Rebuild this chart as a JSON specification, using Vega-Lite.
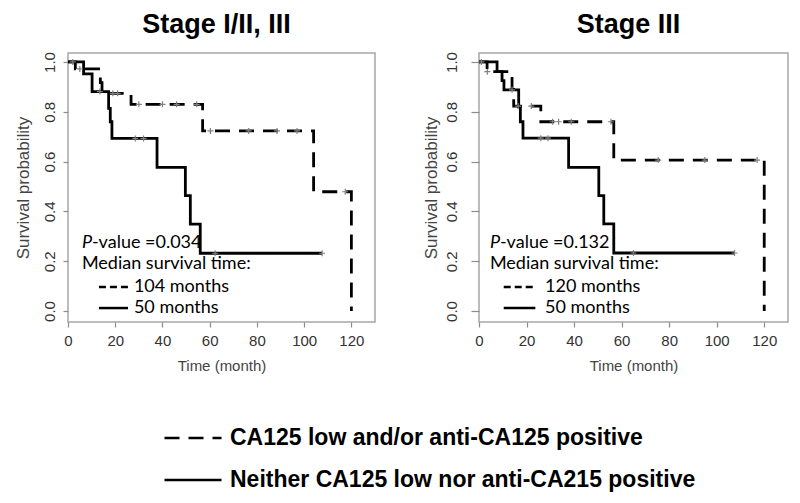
{
  "$schema": "https://vega.github.io/schema/vega-lite/v6.json",
  "background": "white",
  "padding": {"left": 13, "top": 9, "right": 5, "bottom": 5},
  "datasets": {
    "km": [
      {"panel": "Stage I/II, III", "group": "CA125 low and/or anti-CA125 positive", "t": 0, "S": 1},
      {"panel": "Stage I/II, III", "group": "CA125 low and/or anti-CA125 positive", "t": 3.1, "S": 0.972},
      {"panel": "Stage I/II, III", "group": "CA125 low and/or anti-CA125 positive", "t": 13.7, "S": 0.917},
      {"panel": "Stage I/II, III", "group": "CA125 low and/or anti-CA125 positive", "t": 14.4, "S": 0.874},
      {"panel": "Stage I/II, III", "group": "CA125 low and/or anti-CA125 positive", "t": 26.7, "S": 0.83},
      {"panel": "Stage I/II, III", "group": "CA125 low and/or anti-CA125 positive", "t": 57, "S": 0.723},
      {"panel": "Stage I/II, III", "group": "CA125 low and/or anti-CA125 positive", "t": 104, "S": 0.479},
      {"panel": "Stage I/II, III", "group": "CA125 low and/or anti-CA125 positive", "t": 120, "S": 0},
      {"panel": "Stage I/II, III", "group": "Neither CA125 low nor anti-CA215 positive", "t": 0, "S": 1},
      {"panel": "Stage I/II, III", "group": "Neither CA125 low nor anti-CA215 positive", "t": 6.6, "S": 0.952},
      {"panel": "Stage I/II, III", "group": "Neither CA125 low nor anti-CA215 positive", "t": 10.2, "S": 0.881},
      {"panel": "Stage I/II, III", "group": "Neither CA125 low nor anti-CA215 positive", "t": 17.2, "S": 0.814},
      {"panel": "Stage I/II, III", "group": "Neither CA125 low nor anti-CA215 positive", "t": 17.9, "S": 0.76},
      {"panel": "Stage I/II, III", "group": "Neither CA125 low nor anti-CA215 positive", "t": 18.6, "S": 0.693},
      {"panel": "Stage I/II, III", "group": "Neither CA125 low nor anti-CA215 positive", "t": 37.7, "S": 0.577},
      {"panel": "Stage I/II, III", "group": "Neither CA125 low nor anti-CA215 positive", "t": 49.7, "S": 0.463},
      {"panel": "Stage I/II, III", "group": "Neither CA125 low nor anti-CA215 positive", "t": 51.8, "S": 0.349},
      {"panel": "Stage I/II, III", "group": "Neither CA125 low nor anti-CA215 positive", "t": 56, "S": 0.232},
      {"panel": "Stage I/II, III", "group": "Neither CA125 low nor anti-CA215 positive", "t": 107.6, "S": 0.232},
      {"panel": "Stage III", "group": "CA125 low and/or anti-CA125 positive", "t": 0, "S": 1},
      {"panel": "Stage III", "group": "CA125 low and/or anti-CA125 positive", "t": 3.4, "S": 0.961},
      {"panel": "Stage III", "group": "CA125 low and/or anti-CA125 positive", "t": 13.9, "S": 0.89},
      {"panel": "Stage III", "group": "CA125 low and/or anti-CA125 positive", "t": 14.6, "S": 0.823},
      {"panel": "Stage III", "group": "CA125 low and/or anti-CA125 positive", "t": 26, "S": 0.76},
      {"panel": "Stage III", "group": "CA125 low and/or anti-CA125 positive", "t": 56.7, "S": 0.606},
      {"panel": "Stage III", "group": "CA125 low and/or anti-CA125 positive", "t": 120, "S": 0},
      {"panel": "Stage III", "group": "Neither CA125 low nor anti-CA215 positive", "t": 0, "S": 1},
      {"panel": "Stage III", "group": "Neither CA125 low nor anti-CA215 positive", "t": 7.6, "S": 0.961},
      {"panel": "Stage III", "group": "Neither CA125 low nor anti-CA215 positive", "t": 9.7, "S": 0.925},
      {"panel": "Stage III", "group": "Neither CA125 low nor anti-CA215 positive", "t": 10.5, "S": 0.888},
      {"panel": "Stage III", "group": "Neither CA125 low nor anti-CA215 positive", "t": 16.7, "S": 0.82},
      {"panel": "Stage III", "group": "Neither CA125 low nor anti-CA215 positive", "t": 17.4, "S": 0.76},
      {"panel": "Stage III", "group": "Neither CA125 low nor anti-CA215 positive", "t": 18.5, "S": 0.694},
      {"panel": "Stage III", "group": "Neither CA125 low nor anti-CA215 positive", "t": 37.7, "S": 0.577},
      {"panel": "Stage III", "group": "Neither CA125 low nor anti-CA215 positive", "t": 50.4, "S": 0.463},
      {"panel": "Stage III", "group": "Neither CA125 low nor anti-CA215 positive", "t": 52.5, "S": 0.35},
      {"panel": "Stage III", "group": "Neither CA125 low nor anti-CA215 positive", "t": 56.7, "S": 0.233},
      {"panel": "Stage III", "group": "Neither CA125 low nor anti-CA215 positive", "t": 107.5, "S": 0.233}
    ],
    "censor": [
      {"panel": "Stage I/II, III", "t": 2, "S": 1},
      {"panel": "Stage I/II, III", "t": 5, "S": 0.972},
      {"panel": "Stage I/II, III", "t": 19, "S": 0.874},
      {"panel": "Stage I/II, III", "t": 21, "S": 0.874},
      {"panel": "Stage I/II, III", "t": 30, "S": 0.83},
      {"panel": "Stage I/II, III", "t": 40, "S": 0.83},
      {"panel": "Stage I/II, III", "t": 46, "S": 0.83},
      {"panel": "Stage I/II, III", "t": 54.5, "S": 0.83},
      {"panel": "Stage I/II, III", "t": 60.3, "S": 0.723},
      {"panel": "Stage I/II, III", "t": 76.5, "S": 0.723},
      {"panel": "Stage I/II, III", "t": 88.5, "S": 0.723},
      {"panel": "Stage I/II, III", "t": 97, "S": 0.723},
      {"panel": "Stage I/II, III", "t": 117.4, "S": 0.479},
      {"panel": "Stage I/II, III", "t": 13.5, "S": 0.881},
      {"panel": "Stage I/II, III", "t": 28.5, "S": 0.693},
      {"panel": "Stage I/II, III", "t": 32, "S": 0.693},
      {"panel": "Stage I/II, III", "t": 62.3, "S": 0.232},
      {"panel": "Stage I/II, III", "t": 107.6, "S": 0.232},
      {"panel": "Stage III", "t": 1, "S": 1},
      {"panel": "Stage III", "t": 3.5, "S": 0.961},
      {"panel": "Stage III", "t": 16.5, "S": 0.823},
      {"panel": "Stage III", "t": 22, "S": 0.823},
      {"panel": "Stage III", "t": 31, "S": 0.76},
      {"panel": "Stage III", "t": 33.5, "S": 0.76},
      {"panel": "Stage III", "t": 38.8, "S": 0.76},
      {"panel": "Stage III", "t": 55.5, "S": 0.76},
      {"panel": "Stage III", "t": 75.4, "S": 0.606},
      {"panel": "Stage III", "t": 95, "S": 0.606},
      {"panel": "Stage III", "t": 117, "S": 0.606},
      {"panel": "Stage III", "t": 13.9, "S": 0.888},
      {"panel": "Stage III", "t": 26, "S": 0.694},
      {"panel": "Stage III", "t": 29, "S": 0.694},
      {"panel": "Stage III", "t": 65, "S": 0.233},
      {"panel": "Stage III", "t": 107.5, "S": 0.233}
    ]
  },
  "hconcat": [
    {
      "width": 307,
      "height": 269,
      "title": {"text": "Stage I/II, III", "dx": -5},
      "layer": [
        {
          "data": {"name": "km"},
          "transform": [{"filter": "datum.panel === 'Stage I/II, III'"}],
          "mark": {"type": "line", "interpolate": "step-after", "color": "black", "strokeWidth": 2.8},
          "encoding": {
            "x": {"field": "t", "type": "quantitative", "title": "Time (month)", "scale": {"domain": [0, 130], "nice": false, "zero": false}, "axis": {"values": [0, 20, 40, 60, 80, 100, 120]}},
            "y": {"field": "S", "type": "quantitative", "title": "Survival probability", "scale": {"domain": [-0.044, 1.036], "nice": false, "zero": false}, "axis": {"values": [0, 0.2, 0.4, 0.6, 0.8, 1], "format": ".1f"}},
            "strokeDash": {
              "field": "group", "type": "nominal",
              "scale": {"domain": ["CA125 low and/or anti-CA125 positive", "Neither CA125 low nor anti-CA215 positive"], "range": [[15, 9], [1, 0]]},
              "legend": {
                "orient": "none", "legendX": 95, "legendY": 355, "title": null, "direction": "vertical",
                "symbolType": "stroke", "symbolSize": 3249, "symbolStrokeWidth": 2.5, "symbolStrokeColor": "black",
                "labelFont": "Liberation Sans", "labelFontSize": 23, "labelFontWeight": "bold", "labelColor": "black",
                "labelLimit": 0, "labelOffset": 7, "rowPadding": -29
              }
            }
          }
        },
        {
          "data": {"name": "censor"},
          "transform": [{"filter": "datum.panel === 'Stage I/II, III'"}],
          "mark": {"type": "point", "shape": "M-1,0H1M0,-1V1", "size": 36, "filled": false, "stroke": "#808080", "strokeWidth": 1.2, "opacity": 1},
          "encoding": {
            "x": {"field": "t", "type": "quantitative", "title": "Time (month)"},
            "y": {"field": "S", "type": "quantitative", "title": "Survival probability"}
          }
        },
        {
          "data": {"values": [{"label": "P"}]},
          "mark": {"type": "text", "font": "Lato", "fontSize": 18, "fontStyle": "italic", "align": "left", "baseline": "middle", "color": "black"},
          "encoding": {"x": {"datum": 5.9}, "y": {"datum": 0.273}, "text": {"field": "label"}}
        },
        {
          "data": {"values": [{"label": "-value =0.034"}]},
          "mark": {"type": "text", "font": "Lato", "fontSize": 18, "align": "left", "baseline": "middle", "color": "black", "dx": 10},
          "encoding": {"x": {"datum": 5.9}, "y": {"datum": 0.273}, "text": {"field": "label"}}
        },
        {
          "data": {"values": [{"label": "Median survival time:"}]},
          "mark": {"type": "text", "font": "Lato", "fontSize": 18, "align": "left", "baseline": "middle", "color": "black"},
          "encoding": {"x": {"datum": 5.9}, "y": {"datum": 0.187}, "text": {"field": "label"}}
        },
        {
          "data": {"values": [{"label": "104 months"}]},
          "mark": {"type": "rule", "strokeDash": [7, 4], "strokeWidth": 2.5, "color": "black"},
          "encoding": {"x": {"datum": 13.1}, "x2": {"datum": 25.4}, "y": {"datum": 0.0965}}
        },
        {
          "data": {"values": [{"label": "104 months"}]},
          "mark": {"type": "text", "font": "Lato", "fontSize": 18, "align": "left", "baseline": "middle", "color": "black"},
          "encoding": {"x": {"datum": 27.9}, "y": {"datum": 0.0965}, "text": {"field": "label"}}
        },
        {
          "data": {"values": [{"label": "50 months"}]},
          "mark": {"type": "rule", "strokeWidth": 2.5, "color": "black"},
          "encoding": {"x": {"datum": 13.1}, "x2": {"datum": 25.4}, "y": {"datum": 0.012}}
        },
        {
          "data": {"values": [{"label": "50 months"}]},
          "mark": {"type": "text", "font": "Lato", "fontSize": 18, "align": "left", "baseline": "middle", "color": "black"},
          "encoding": {"x": {"datum": 27.9}, "y": {"datum": 0.012}, "text": {"field": "label"}}
        }
      ]
    },
    {
      "width": 309,
      "height": 269,
      "title": {"text": "Stage III", "dx": -5},
      "layer": [
        {
          "data": {"name": "km"},
          "transform": [{"filter": "datum.panel === 'Stage III'"}],
          "mark": {"type": "line", "interpolate": "step-after", "color": "black", "strokeWidth": 2.8},
          "encoding": {
            "x": {"field": "t", "type": "quantitative", "title": "Time (month)", "scale": {"domain": [0, 130], "nice": false, "zero": false}, "axis": {"values": [0, 20, 40, 60, 80, 100, 120]}},
            "y": {"field": "S", "type": "quantitative", "title": "Survival probability", "scale": {"domain": [-0.044, 1.036], "nice": false, "zero": false}, "axis": {"values": [0, 0.2, 0.4, 0.6, 0.8, 1], "format": ".1f", "tickSize": 8, "labelPadding": 15, "titlePadding": 4}},
            "strokeDash": {
              "field": "group", "type": "nominal",
              "scale": {"domain": ["CA125 low and/or anti-CA125 positive", "Neither CA125 low nor anti-CA215 positive"], "range": [[15, 9], [1, 0]]},
              "legend": null
            }
          }
        },
        {
          "data": {"name": "censor"},
          "transform": [{"filter": "datum.panel === 'Stage III'"}],
          "mark": {"type": "point", "shape": "M-1,0H1M0,-1V1", "size": 36, "filled": false, "stroke": "#808080", "strokeWidth": 1.2, "opacity": 1},
          "encoding": {
            "x": {"field": "t", "type": "quantitative", "title": "Time (month)"},
            "y": {"field": "S", "type": "quantitative", "title": "Survival probability"}
          }
        },
        {
          "data": {"values": [{"label": "P"}]},
          "mark": {"type": "text", "font": "Lato", "fontSize": 18, "fontStyle": "italic", "align": "left", "baseline": "middle", "color": "black"},
          "encoding": {"x": {"datum": 4.6}, "y": {"datum": 0.273}, "text": {"field": "label"}}
        },
        {
          "data": {"values": [{"label": "-value =0.132"}]},
          "mark": {"type": "text", "font": "Lato", "fontSize": 18, "align": "left", "baseline": "middle", "color": "black", "dx": 10},
          "encoding": {"x": {"datum": 4.6}, "y": {"datum": 0.273}, "text": {"field": "label"}}
        },
        {
          "data": {"values": [{"label": "Median survival time:"}]},
          "mark": {"type": "text", "font": "Lato", "fontSize": 18, "align": "left", "baseline": "middle", "color": "black"},
          "encoding": {"x": {"datum": 4.6}, "y": {"datum": 0.187}, "text": {"field": "label"}}
        },
        {
          "data": {"values": [{"label": "120 months"}]},
          "mark": {"type": "rule", "strokeDash": [7, 4], "strokeWidth": 2.5, "color": "black"},
          "encoding": {"x": {"datum": 10.4}, "x2": {"datum": 23.7}, "y": {"datum": 0.0965}}
        },
        {
          "data": {"values": [{"label": "120 months"}]},
          "mark": {"type": "text", "font": "Lato", "fontSize": 18, "align": "left", "baseline": "middle", "color": "black"},
          "encoding": {"x": {"datum": 27.8}, "y": {"datum": 0.0965}, "text": {"field": "label"}}
        },
        {
          "data": {"values": [{"label": "50 months"}]},
          "mark": {"type": "rule", "strokeWidth": 2.5, "color": "black"},
          "encoding": {"x": {"datum": 10.4}, "x2": {"datum": 23.7}, "y": {"datum": 0.012}}
        },
        {
          "data": {"values": [{"label": "50 months"}]},
          "mark": {"type": "text", "font": "Lato", "fontSize": 18, "align": "left", "baseline": "middle", "color": "black"},
          "encoding": {"x": {"datum": 27.8}, "y": {"datum": 0.012}, "text": {"field": "label"}}
        }
      ]
    }
  ],
  "spacing": 104,
  "bounds": "flush",
  "resolve": {"scale": {"strokeDash": "independent"}, "legend": {"strokeDash": "independent"}},
  "config": {
    "view": {"stroke": "#a6a6a6", "strokeWidth": 1.5},
    "font": "Liberation Sans",
    "title": {"font": "Liberation Sans", "fontSize": 27, "fontWeight": "bold", "color": "black", "baseline": "alphabetic", "offset": 13, "frame": "group"},
    "axisX": {"grid": false, "domain": false, "tickSize": 5, "tickColor": "#8c8c8c", "tickWidth": 1.2, "labelFont": "Liberation Sans", "labelFontSize": 15, "labelColor": "#333333", "labelPadding": 6, "labelFlush": false, "labelOverlap": false, "titleFont": "Liberation Sans", "titleFontSize": 15, "titleFontWeight": "normal", "titleColor": "#444444", "titlePadding": 10},
    "axisY": {"grid": false, "domain": false, "tickSize": 5, "tickColor": "#8c8c8c", "tickWidth": 1.2, "labelFont": "Liberation Sans", "labelFontSize": 15, "labelColor": "#333333", "labelPadding": 9, "labelAngle": -90, "labelAlign": "center", "labelBaseline": "alphabetic", "labelFlush": false, "labelOverlap": false, "titleFont": "Liberation Sans", "titleFontSize": 17, "titleFontWeight": "normal", "titleColor": "#444444", "titlePadding": 10}
  }
}
